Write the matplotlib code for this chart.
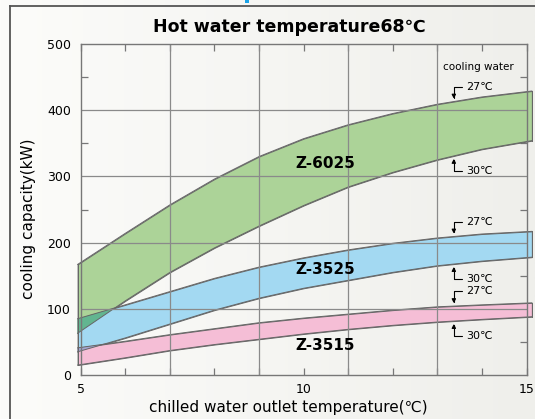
import numpy as np
import matplotlib
matplotlib.use("Agg")
import matplotlib.pyplot as plt
from matplotlib.colors import LinearSegmentedColormap
from matplotlib.lines import Line2D
from matplotlib.patches import Rectangle

plt.rcParams['font.family'] = ['DejaVu Sans', 'Noto Sans CJK JP']

# chilled water outlet temperature (band ends poke slightly past the frame)
temps = [4.93, 6, 7, 8, 9, 10, 11, 12, 13, 14, 15.12]

# cooling capacity (kW), 27C cooling water = upper edge, 30C = lower edge
z6025_27 = [167, 214, 257, 296, 330, 357, 378, 395, 409, 420, 429]
z6025_30 = [63, 112, 155, 192, 225, 256, 284, 306, 325, 341, 354]
z3525_27 = [85, 106, 126, 146, 163, 177, 189, 199, 207, 213, 217]
z3525_30 = [35, 56, 77, 98, 116, 131, 143, 155, 165, 172, 178]
z3515_27 = [41, 51, 61, 70, 79, 86, 92, 98, 103, 106, 109]
z3515_30 = [15, 26, 37, 46, 54, 62, 69, 75, 80, 84, 88]

models = ['Z-6025', 'Z-3525', 'Z-3515']
colors = ['#acd398', '#a3d9f2', '#f5bed6']
label_pos = [(10.48, 320), (10.48, 159), (10.48, 45)]

W, H = 535, 419
fig = plt.figure(figsize=(W / 100, H / 100), dpi=100)

# light paper-like background
bg = fig.add_axes([0, 0, 1, 1], zorder=-10)
grad = np.linspace(0, 1, 256).reshape(1, -1)
bg.imshow(grad, aspect='auto', extent=[0, 1, 0, 1],
          cmap=LinearSegmentedColormap.from_list('bg', ['#fcfcfa', '#efefeb']))
bg.axis('off')

# frame lines
fig.add_artist(Line2D([10 / W, 10 / W], [0, 1 - 6 / H], color='#555555', lw=1.3))
fig.add_artist(Line2D([10 / W, 1], [1 - 6 / H, 1 - 6 / H], color='#555555', lw=1.3))
fig.add_artist(Rectangle((245 / W, 1 - 3 / H), 4 / W, 3 / H, color='#1aa3e8', lw=0))

ax = fig.add_axes([80.7 / W, 1 - 375 / H, (526.5 - 80.7) / W, (375 - 44) / H])
ax.set_facecolor('none')

x = np.array(temps)
tops = [np.array(z6025_27), np.array(z3525_27), np.array(z3515_27)]
bots = [np.array(z6025_30), np.array(z3525_30), np.array(z3515_30)]

edge = '#666666'
for t, b, c in zip(tops, bots, colors):
    ax.fill_between(x, b, t, facecolor=c, edgecolor=edge, lw=0.7,
                    clip_on=False, zorder=2)

# overlapping parts look darker
for (i, j, c) in [(0, 1, '#62b590'), (1, 2, '#a4a6d2')]:
    lo = np.maximum(bots[i], bots[j])
    hi = np.minimum(tops[i], tops[j])
    ax.fill_between(x, lo, hi, where=hi > lo, interpolate=True,
                    facecolor=c, lw=0, clip_on=False, zorder=2.5)

for t, b in zip(tops, bots):
    ax.plot(x, t, color=edge, lw=0.7, clip_on=False, zorder=3)
    ax.plot(x, b, color=edge, lw=0.7, clip_on=False, zorder=3)
    ax.plot([x[0], x[0]], [b[0], t[0]], color=edge, lw=0.7, clip_on=False, zorder=3)
    ax.plot([x[-1], x[-1]], [b[-1], t[-1]], color=edge, lw=0.7, clip_on=False, zorder=3)

# grid
for gx in [7, 9, 11, 13]:
    ax.axvline(gx, color='#8a8a8a', lw=0.9, zorder=4)
for gy in [100, 200, 300, 400]:
    ax.axhline(gy, color='#8a8a8a', lw=0.9, zorder=4)

ax.set_xlim(5, 15)
ax.set_ylim(0, 500)
ax.set_xticks([5, 10, 15])
ax.set_xticks([6, 7, 8, 9, 11, 12, 13, 14], minor=True)
ax.set_yticks([0, 100, 200, 300, 400, 500])
ax.set_yticks([50, 150, 250, 350, 450], minor=True)
ax.tick_params(which='both', direction='in', top=True, right=True,
               color='#777777', width=0.9, labelsize=9, pad=6)
ax.tick_params(which='both', length=5)
ax.tick_params(axis='y', which='major', length=0, pad=7)
for s in ax.spines.values():
    s.set_color('#777777')
    s.set_linewidth(1.0)
    s.set_zorder(5)

for m, (lx, ly) in zip(models, label_pos):
    ax.text(lx, ly, m, ha='center', va='center', fontsize=11,
            fontweight='bold', zorder=6)

# cooling water annotations
ann_x = 13.37
ax.text(13.93, 465, 'cooling water', ha='center', va='center', fontsize=7.5, zorder=6)
arrow = dict(arrowstyle='-|>', connectionstyle='angle,angleA=0,angleB=90,rad=0',
             color='black', lw=0.8, shrinkA=1, shrinkB=2, mutation_scale=6)
for t, b in zip(tops, bots):
    yt = np.interp(ann_x, x, t)
    yb = np.interp(ann_x, x, b)
    ax.annotate('27℃', xy=(ann_x, yt), xytext=(9, 10.5), textcoords='offset points',
                ha='left', va='center', fontsize=8, arrowprops=arrow, zorder=6)
    ax.annotate('30℃', xy=(ann_x, yb), xytext=(9, -10.5), textcoords='offset points',
                ha='left', va='center', fontsize=8, arrowprops=arrow, zorder=6)

ax.set_title('Hot water temperature68℃', fontsize=12.5, fontweight='bold',
             pad=9, x=0.467)
ax.set_xlabel('chilled water outlet temperature(℃)', fontsize=11)
ax.set_ylabel('cooling capacity(kW)', fontsize=11)
ax.xaxis.set_label_coords(0.466, -0.075)
ax.yaxis.set_label_coords(-0.1, 0.471)

fig.savefig('out.png', dpi=100)
